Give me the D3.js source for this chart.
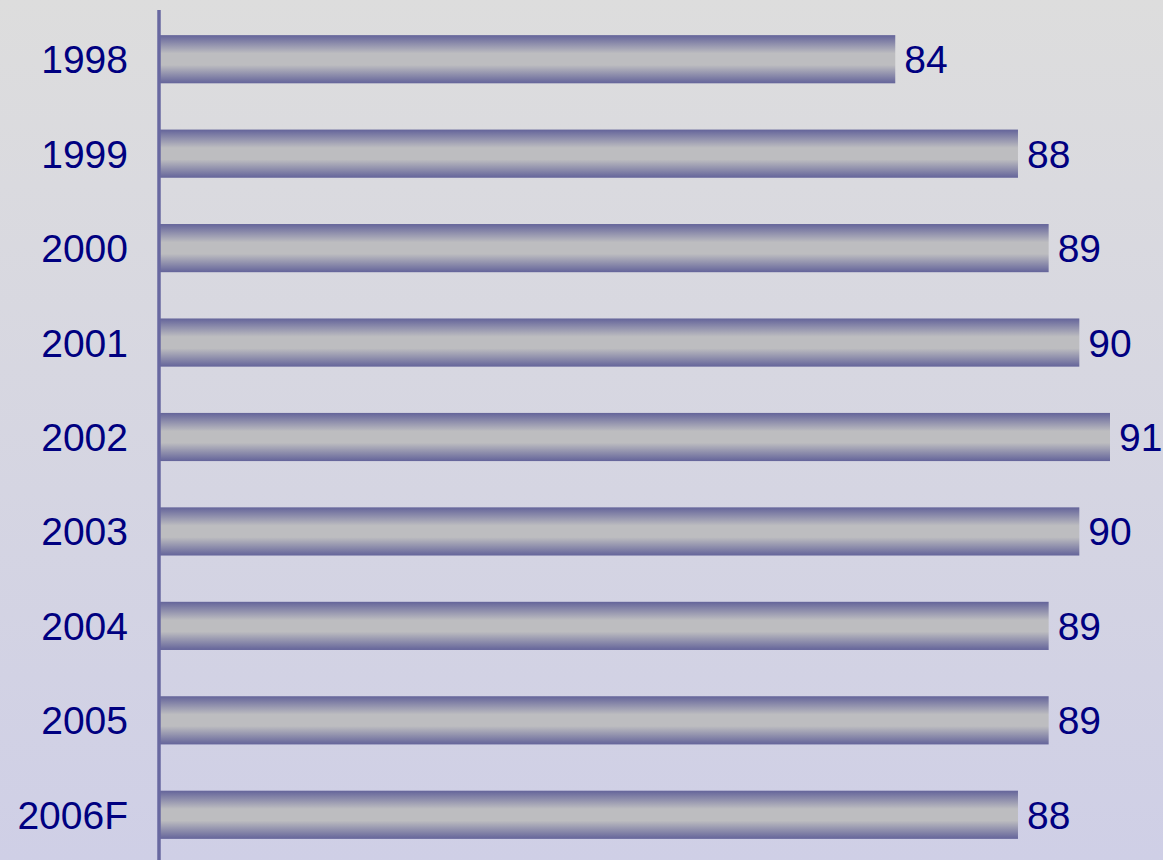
<!DOCTYPE html>
<html>
<head>
<meta charset="utf-8">
<script src="https://cdn.jsdelivr.net/npm/d3@7"></script>
<style>
  html, body { margin: 0; padding: 0; }
  svg { display: block; }
  .label { font-family: "Liberation Sans", Arial, sans-serif; font-size: 39px; fill: #000080; }
</style>
</head>
<body>
<div class="chart"></div>
<script>
// data
var years = ["1998", "1999", "2000", "2001", "2002", "2003", "2004", "2005", "2006F"];
var values = [84, 88, 89, 90, 91, 90, 89, 89, 88];
var xDomain = [60, 91];

var WIDTH = 1163, HEIGHT = 860;
var AXIS_X = 159;

var svg = d3.select(".chart").append("svg")
    .attr("width", WIDTH)
    .attr("height", HEIGHT);

var defs = svg.append("defs");

// page background, grey on top to pale lilac at bottom
var bg = defs.append("linearGradient")
    .attr("id", "bg").attr("x1", 0).attr("y1", 0).attr("x2", 0).attr("y2", 1);
bg.append("stop").attr("offset", "0%").attr("stop-color", "#dddddd");
bg.append("stop").attr("offset", "100%").attr("stop-color", "#cfcfe6");

// cylinder look of the bars
var barGrad = defs.append("linearGradient")
    .attr("id", "barGrad").attr("x1", 0).attr("y1", 0).attr("x2", 0).attr("y2", 1);
barGrad.append("stop").attr("offset", "0%").attr("stop-color", "#64649a");
barGrad.append("stop").attr("offset", "38%").attr("stop-color", "#bdbdc0");
barGrad.append("stop").attr("offset", "62%").attr("stop-color", "#bdbdc0");
barGrad.append("stop").attr("offset", "100%").attr("stop-color", "#64649a");

svg.append("rect")
    .attr("width", WIDTH).attr("height", HEIGHT)
    .attr("fill", "url(#bg)");

var x = d3.scaleLinear().domain(xDomain).range([AXIS_X, 1110]);
var y = d3.scaleBand().domain(years).range([12, 862]).paddingInner(0.49).paddingOuter(0.245);

var rows = svg.selectAll(".row")
    .data(years.map(function (d, i) { return { year: d, value: values[i] }; }))
  .enter().append("g")
    .attr("class", "row");

rows.append("rect")
    .attr("x", AXIS_X)
    .attr("y", function (d) { return y(d.year); })
    .attr("width", function (d) { return x(d.value) - AXIS_X; })
    .attr("height", y.bandwidth())
    .attr("fill", "url(#barGrad)");

rows.append("text")
    .attr("class", "label")
    .attr("x", function (d) { return x(d.value) + 9; })
    .attr("y", function (d) { return y(d.year) + y.bandwidth() / 2 + 14; })
    .text(function (d) { return d.value; });

rows.append("text")
    .attr("class", "label")
    .attr("text-anchor", "end")
    .attr("x", 128)
    .attr("y", function (d) { return y(d.year) + y.bandwidth() / 2 + 14; })
    .text(function (d) { return d.year; });

// vertical axis line
svg.append("line")
    .attr("x1", AXIS_X).attr("x2", AXIS_X)
    .attr("y1", 10).attr("y2", HEIGHT)
    .attr("stroke", "#6868a0")
    .attr("stroke-width", 3.5);
</script>
</body>
</html>
